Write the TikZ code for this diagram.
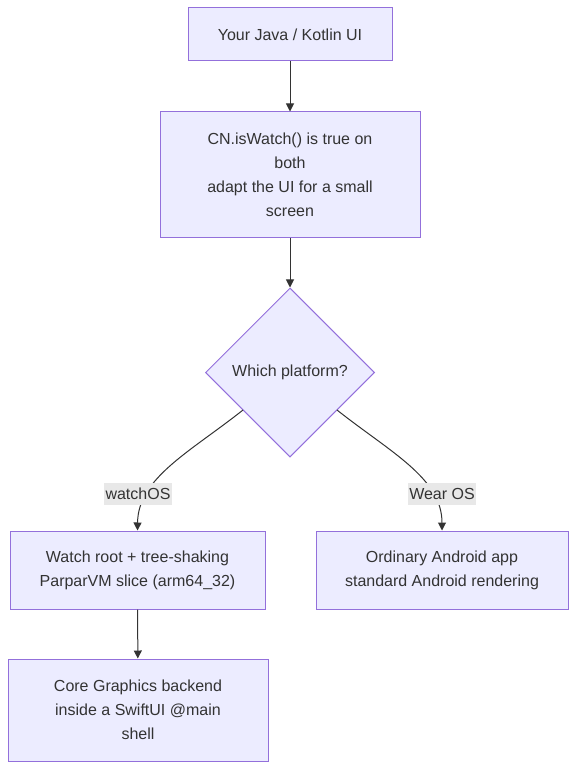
\documentclass[tikz,border=0pt]{standalone}
\usepackage{fontspec}
\setmainfont{Liberation Sans}
\usetikzlibrary{shapes.geometric,arrows.meta}
\definecolor{nodefill}{HTML}{ECECFF}
\definecolor{nodeline}{HTML}{9370DB}
\definecolor{txt}{HTML}{333333}
\definecolor{lblbg}{HTML}{E8E8E8}
\begin{document}
\begin{tikzpicture}[x=0.75pt,y=-0.75pt,
  box/.style={draw=nodeline,fill=nodefill,line width=0.75pt,text=txt,font=\fontsize{12pt}{18pt}\selectfont,align=center,inner sep=0pt},
  dec/.style={draw=nodeline,fill=nodefill,line width=0.75pt,text=txt,font=\fontsize{12pt}{18pt}\selectfont,diamond,shape aspect=1,minimum width=126.75pt,minimum height=126.75pt,inner sep=0pt},
  conn/.style={draw=txt,line width=0.75pt,-{Triangle[length=6pt,width=6pt]}},
  lbl/.style={fill=lblbg,text=txt,font=\fontsize{12pt}{14pt}\selectfont,inner xsep=1pt,inner ysep=0pt,minimum height=16.5pt}
]
\useasboundingbox (0,0) rectangle (577,770);
\node[box,minimum width=153pt,minimum height=39.75pt] (a) at (290,34.5) {Your Java / Kotlin UI};
\node[box,minimum width=195pt,minimum height=93.75pt] (b) at (290,174.5) {CN.isWatch() is true on\\both\\adapt the UI for a small\\screen};
\node[dec] (d) at (290,372.5) {Which platform?};
\node[box,minimum width=191.25pt,minimum height=58.5pt] (c) at (137.5,570) {Watch root + tree-shaking\\ParparVM slice (arm64\_32)};
\node[box,minimum width=189pt,minimum height=58.5pt] (w) at (442,570) {Ordinary Android app\\standard Android rendering};
\node[box,minimum width=195pt,minimum height=76.5pt] (e) at (138,710) {Core Graphics backend\\inside a SwiftUI @main\\shell};
\coordinate (dl) at (243,410);
\coordinate (dr) at (337,410);
\draw[conn] (a) -- (b);
\draw[conn] (b) -- (d);
\draw[conn] (dl) .. controls (190,452) and (138,478) .. (c.north);
\draw[conn] (dr) .. controls (390,452) and (442,478) .. (w.north);
\draw[conn] (c) -- (e);
\node[lbl] (l1) at (138,494) {watchOS};
\node[lbl] (l2) at (442,494) {Wear OS};
\end{tikzpicture}
\end{document}
